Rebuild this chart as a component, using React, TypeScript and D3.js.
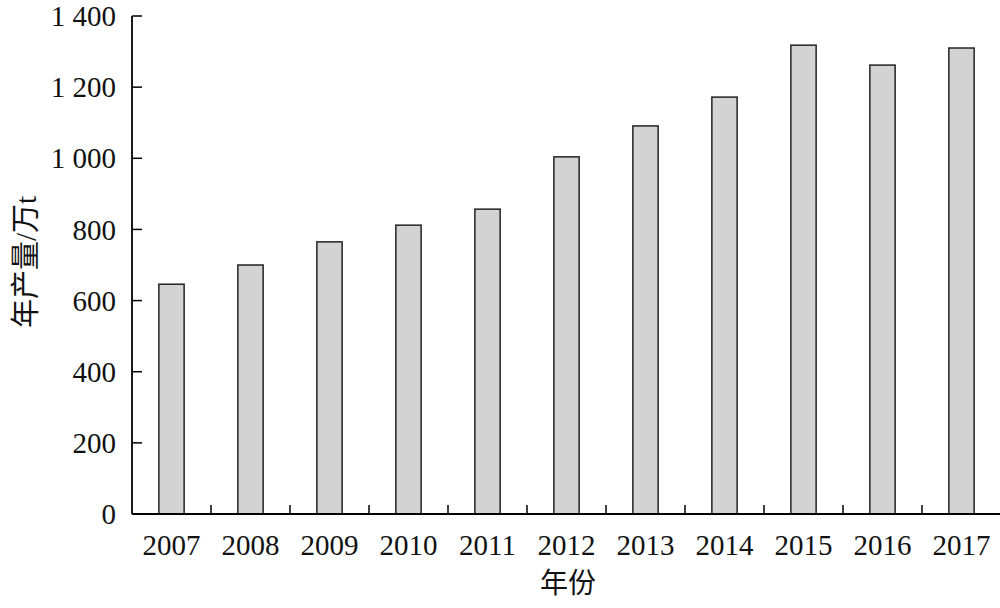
import React from "react";
import * as d3 from "d3";

const years = ["2007","2008","2009","2010","2011","2012","2013","2014","2015","2016","2017"];
const output = [646, 700, 765, 812, 857, 1004, 1091, 1172, 1318, 1262, 1310];
const yTicks = [0, 200, 400, 600, 800, 1000, 1200, 1400];
const yTickLabels = ["0", "200", "400", "600", "800", "1 000", "1 200", "1 400"];
const xTitle = "年份";
const yTitleCjk1 = "年产量";
const yTitleCjk2 = "万";
const yTitleUnit = "t";

export default function App() {
  const W = 1000, H = 608;
  const left = 132, right = 1001, top = 16, bottom = 514;
  const x = d3.scaleBand<string>().domain(years).range([left, right]).padding(0);
  const y = d3.scaleLinear().domain([0, 1400]).range([bottom, top]);
  const bw = x.step() * 0.32;
  const serif = "Liberation Serif";
  const cjk = "Noto Sans CJK SC";
  return (
    <svg width={W} height={H} style={{ position: "absolute", left: 0, top: 0, background: "#fff" }}>
      {years.map((yr, i) => {
        const cx = x(yr)! + x.bandwidth() / 2;
        return (
          <rect key={yr} x={cx - bw / 2} y={y(output[i])} width={bw} height={bottom - y(output[i])}
            fill="#d3d3d3" stroke="#222" strokeWidth={1.5} />
        );
      })}
      <line x1={left} x2={left} y1={top} y2={bottom} stroke="#000" strokeWidth={1.8} />
      <line x1={left} x2={right} y1={bottom} y2={bottom} stroke="#000" strokeWidth={1.8} />
      {yTicks.map((t, i) => (
        <g key={t}>
          <line x1={left} x2={left + 10} y1={y(t)} y2={y(t)} stroke="#000" strokeWidth={1.5} />
          <text x={116} y={y(t)} dy="0.35em" textAnchor="end" fontFamily={serif} fontSize={29} fill="#111">{yTickLabels[i]}</text>
        </g>
      ))}
      {years.slice(1).map((yr) => (
        <line key={yr} x1={x(yr)!} x2={x(yr)!} y1={bottom} y2={bottom - 9} stroke="#000" strokeWidth={1.5} />
      ))}
      {years.map((yr) => (
        <text key={yr} x={x(yr)! + x.bandwidth() / 2} y={555} textAnchor="middle" fontFamily={serif} fontSize={29} fill="#111">{yr}</text>
      ))}
      <text x={568} y={593} textAnchor="middle" fontFamily={cjk} fontWeight={400} fontSize={28} fill="#111">{xTitle}</text>
      <text transform={`translate(36, 262) rotate(-90)`} textAnchor="middle" fontSize={29} fill="#111">
        <tspan fontFamily={cjk} fontWeight={400}>{yTitleCjk1}</tspan>
        <tspan fontFamily={serif}>/</tspan>
        <tspan fontFamily={cjk} fontWeight={400}>{yTitleCjk2}</tspan>
        <tspan fontFamily={serif}>{yTitleUnit}</tspan>
      </text>
    </svg>
  );
}
